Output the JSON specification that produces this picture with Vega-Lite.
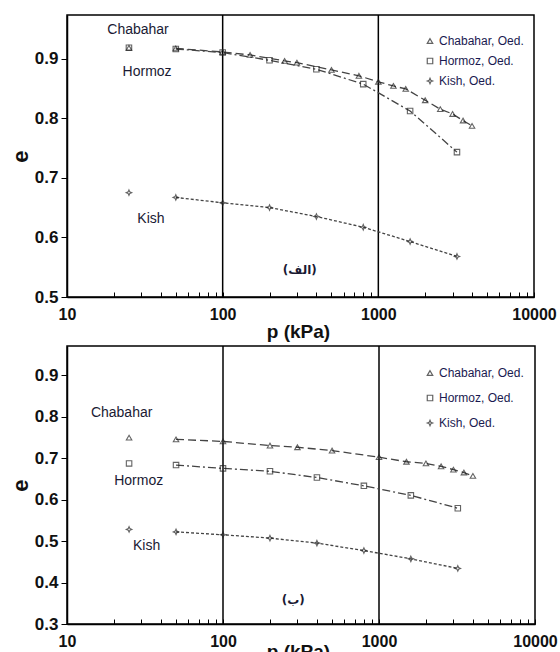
{
  "$schema": "https://vega.github.io/schema/vega-lite/v6.json",
  "padding": {"left": 8, "top": 13, "right": 4, "bottom": 0},
  "spacing": 2,
  "config": {
    "font": "Liberation Sans",
    "view": {"stroke": "#000", "strokeWidth": 1.5},
    "axis": {"domainColor": "#000", "tickColor": "#000", "labelColor": "#111", "titleColor": "#111", "grid": false},
    "legend": {"labelFontSize": 12, "labelColor": "#1a1a50", "symbolSize": 30, "symbolStrokeColor": "#222", "symbolStrokeWidth": 1.2, "labelOffset": 3}
  },
  "datasets": {
    "top": [
      {"series": "Chabahar, Oed.", "p": 25, "e": 0.918},
      {"series": "Chabahar, Oed.", "p": 50, "e": 0.917},
      {"series": "Chabahar, Oed.", "p": 100, "e": 0.911},
      {"series": "Chabahar, Oed.", "p": 150, "e": 0.906},
      {"series": "Chabahar, Oed.", "p": 250, "e": 0.896},
      {"series": "Chabahar, Oed.", "p": 300, "e": 0.893},
      {"series": "Chabahar, Oed.", "p": 500, "e": 0.881},
      {"series": "Chabahar, Oed.", "p": 750, "e": 0.871},
      {"series": "Chabahar, Oed.", "p": 1000, "e": 0.861},
      {"series": "Chabahar, Oed.", "p": 1250, "e": 0.854},
      {"series": "Chabahar, Oed.", "p": 1500, "e": 0.849},
      {"series": "Chabahar, Oed.", "p": 2000, "e": 0.830},
      {"series": "Chabahar, Oed.", "p": 2500, "e": 0.815},
      {"series": "Chabahar, Oed.", "p": 3000, "e": 0.807},
      {"series": "Chabahar, Oed.", "p": 3500, "e": 0.796},
      {"series": "Chabahar, Oed.", "p": 4000, "e": 0.787},
      {"series": "Hormoz, Oed.", "p": 25, "e": 0.918},
      {"series": "Hormoz, Oed.", "p": 50, "e": 0.916},
      {"series": "Hormoz, Oed.", "p": 100, "e": 0.910},
      {"series": "Hormoz, Oed.", "p": 200, "e": 0.897},
      {"series": "Hormoz, Oed.", "p": 400, "e": 0.882},
      {"series": "Hormoz, Oed.", "p": 800, "e": 0.857},
      {"series": "Hormoz, Oed.", "p": 1600, "e": 0.812},
      {"series": "Hormoz, Oed.", "p": 3200, "e": 0.743},
      {"series": "Kish, Oed.", "p": 25, "e": 0.675},
      {"series": "Kish, Oed.", "p": 50, "e": 0.667},
      {"series": "Kish, Oed.", "p": 100, "e": 0.658},
      {"series": "Kish, Oed.", "p": 200, "e": 0.650},
      {"series": "Kish, Oed.", "p": 400, "e": 0.635},
      {"series": "Kish, Oed.", "p": 800, "e": 0.617},
      {"series": "Kish, Oed.", "p": 1600, "e": 0.593},
      {"series": "Kish, Oed.", "p": 3200, "e": 0.568}
    ],
    "bottom": [
      {"series": "Chabahar, Oed.", "p": 25, "e": 0.749},
      {"series": "Chabahar, Oed.", "p": 50, "e": 0.745},
      {"series": "Chabahar, Oed.", "p": 100, "e": 0.740},
      {"series": "Chabahar, Oed.", "p": 200, "e": 0.730},
      {"series": "Chabahar, Oed.", "p": 300, "e": 0.726},
      {"series": "Chabahar, Oed.", "p": 500, "e": 0.718},
      {"series": "Chabahar, Oed.", "p": 1000, "e": 0.702},
      {"series": "Chabahar, Oed.", "p": 1500, "e": 0.691},
      {"series": "Chabahar, Oed.", "p": 2000, "e": 0.687},
      {"series": "Chabahar, Oed.", "p": 2500, "e": 0.680},
      {"series": "Chabahar, Oed.", "p": 3000, "e": 0.672},
      {"series": "Chabahar, Oed.", "p": 3500, "e": 0.665},
      {"series": "Chabahar, Oed.", "p": 4000, "e": 0.657},
      {"series": "Hormoz, Oed.", "p": 25, "e": 0.687},
      {"series": "Hormoz, Oed.", "p": 50, "e": 0.683},
      {"series": "Hormoz, Oed.", "p": 100, "e": 0.675},
      {"series": "Hormoz, Oed.", "p": 200, "e": 0.668},
      {"series": "Hormoz, Oed.", "p": 400, "e": 0.653},
      {"series": "Hormoz, Oed.", "p": 800, "e": 0.633},
      {"series": "Hormoz, Oed.", "p": 1600, "e": 0.610},
      {"series": "Hormoz, Oed.", "p": 3200, "e": 0.579},
      {"series": "Kish, Oed.", "p": 25, "e": 0.528},
      {"series": "Kish, Oed.", "p": 50, "e": 0.522},
      {"series": "Kish, Oed.", "p": 100, "e": 0.515},
      {"series": "Kish, Oed.", "p": 200, "e": 0.507},
      {"series": "Kish, Oed.", "p": 400, "e": 0.495},
      {"series": "Kish, Oed.", "p": 800, "e": 0.477},
      {"series": "Kish, Oed.", "p": 1600, "e": 0.457},
      {"series": "Kish, Oed.", "p": 3200, "e": 0.434}
    ],
    "grid": [{"p": 100}, {"p": 1000}],
    "topNames": [
      {"label": "Chabahar", "p": 28.6, "e": 0.948},
      {"label": "Hormoz", "p": 32.7, "e": 0.878},
      {"label": "Kish", "p": 34.6, "e": 0.631}
    ],
    "topTag": [{"label": "(الف)", "p": 313, "e": 0.546}],
    "bottomNames": [
      {"label": "Chabahar", "p": 22.4, "e": 0.808},
      {"label": "Hormoz", "p": 28.8, "e": 0.645},
      {"label": "Kish", "p": 32.4, "e": 0.487}
    ],
    "bottomTag": [{"label": "(ب)", "p": 282, "e": 0.358}]
  },
  "vconcat": [
    {
      "width": 467,
      "height": 282,
      "layer": [
        {
          "data": {"name": "grid"},
          "mark": {"type": "rule", "color": "#000", "strokeWidth": 1.5},
          "encoding": {
            "x": {
              "field": "p", "type": "quantitative",
              "scale": {"type": "log", "domain": [10, 10000], "nice": false},
              "axis": {
                "title": "p (kPa)",
                "values": [10,20,30,40,50,60,70,80,90,100,200,300,400,500,600,700,800,900,1000,2000,3000,4000,5000,6000,7000,8000,9000,10000],
                "format": "d",
                "labelExpr": "indexof(['10','100','1000','10000'], datum.label) >= 0 ? datum.label : ''",
                "tickSize": -5,
                "labelPadding": 14,
                "labelFontSize": 16,
                "labelFontWeight": "bold",
                "labelOverlap": false,
                "labelFlush": false,
                "titleFontSize": 19,
                "titleFontWeight": "bold",
                "titleX": 231,
                "titleY": 34,
                "titleBaseline": "middle",
                "domainWidth": 1.5
              }
            }
          }
        },
        {
          "data": {"name": "top"},
          "transform": [{"filter": "datum.p >= 50 && datum.series == 'Chabahar, Oed.'"}],
          "mark": {"type": "line", "color": "#444", "strokeWidth": 1.3, "strokeDash": [8, 4]},
          "encoding": {
            "x": {"field": "p", "type": "quantitative", "scale": {"type": "log", "domain": [10, 10000], "nice": false}},
            "y": {"field": "e", "type": "quantitative", "scale": {"domain": [0.5, 0.973], "nice": false, "zero": false}}
          }
        },
        {
          "data": {"name": "top"},
          "transform": [{"filter": "datum.p >= 50 && datum.series == 'Hormoz, Oed.'"}],
          "mark": {"type": "line", "color": "#444", "strokeWidth": 1.3, "strokeDash": [8, 3, 2, 3]},
          "encoding": {
            "x": {"field": "p", "type": "quantitative", "scale": {"type": "log", "domain": [10, 10000], "nice": false}},
            "y": {"field": "e", "type": "quantitative", "scale": {"domain": [0.5, 0.973], "nice": false, "zero": false}}
          }
        },
        {
          "data": {"name": "top"},
          "transform": [{"filter": "datum.p >= 50 && datum.series == 'Kish, Oed.'"}],
          "mark": {"type": "line", "color": "#444", "strokeWidth": 1.3, "strokeDash": [3, 2]},
          "encoding": {
            "x": {"field": "p", "type": "quantitative", "scale": {"type": "log", "domain": [10, 10000], "nice": false}},
            "y": {"field": "e", "type": "quantitative", "scale": {"domain": [0.5, 0.973], "nice": false, "zero": false}}
          }
        },
        {
          "data": {"name": "top"},
          "mark": {"type": "point", "filled": false, "color": "#222", "size": 30, "strokeWidth": 1.1},
          "encoding": {
            "x": {"field": "p", "type": "quantitative", "scale": {"type": "log", "domain": [10, 10000], "nice": false}},
            "y": {
              "field": "e", "type": "quantitative",
              "scale": {"domain": [0.5, 0.973], "nice": false, "zero": false},
              "axis": {
                "title": "e",
                "values": [0.5, 0.6, 0.7, 0.8, 0.9],
                "format": ".1f",
                "tickSize": 6,
                "labelPadding": 3,
                "labelFontSize": 17,
                "labelFontWeight": "bold",
                "titleFontSize": 22,
                "titleFontWeight": "bold",
                "titlePadding": 2,
                "domainWidth": 1.5
              }
            },
            "shape": {
              "field": "series", "type": "nominal",
              "scale": {"domain": ["Chabahar, Oed.", "Hormoz, Oed.", "Kish, Oed."], "range": ["triangle-up", "square", "M0,-1L0.3,-0.3L1,0L0.3,0.3L0,1L-0.3,0.3L-1,0L-0.3,-0.3Z"]},
              "legend": {"title": null, "orient": "none", "legendX": 357, "legendY": 20, "rowPadding": 8}
            }
          }
        },
        {
          "data": {"name": "topNames"},
          "mark": {"type": "text", "fontSize": 14, "color": "#1a1a33"},
          "encoding": {
            "x": {"field": "p", "type": "quantitative", "scale": {"type": "log", "domain": [10, 10000], "nice": false}},
            "y": {"field": "e", "type": "quantitative", "scale": {"domain": [0.5, 0.973], "nice": false, "zero": false}},
            "text": {"field": "label"}
          }
        },
        {
          "data": {"name": "topTag"},
          "mark": {"type": "text", "fontSize": 12, "fontWeight": "bold", "font": "DejaVu Sans", "color": "#1a1a33"},
          "encoding": {
            "x": {"field": "p", "type": "quantitative", "scale": {"type": "log", "domain": [10, 10000], "nice": false}},
            "y": {"field": "e", "type": "quantitative", "scale": {"domain": [0.5, 0.973], "nice": false, "zero": false}},
            "text": {"field": "label"}
          }
        }
      ]
    },
    {
      "width": 468,
      "height": 278,
      "layer": [
        {
          "data": {"name": "grid"},
          "mark": {"type": "rule", "color": "#000", "strokeWidth": 1.5},
          "encoding": {
            "x": {
              "field": "p", "type": "quantitative",
              "scale": {"type": "log", "domain": [10, 10000], "nice": false},
              "axis": {
                "title": "p (kPa)",
                "values": [10,20,30,40,50,60,70,80,90,100,200,300,400,500,600,700,800,900,1000,2000,3000,4000,5000,6000,7000,8000,9000,10000],
                "format": "d",
                "labelExpr": "indexof(['10','100','1000','10000'], datum.label) >= 0 ? datum.label : ''",
                "tickSize": -5,
                "labelPadding": 14,
                "labelFontSize": 16,
                "labelFontWeight": "bold",
                "labelOverlap": false,
                "labelFlush": false,
                "titleFontSize": 19,
                "titleFontWeight": "bold",
                "titleX": 231,
                "titleY": 27,
                "titleBaseline": "middle",
                "domainWidth": 1.5
              }
            }
          }
        },
        {
          "data": {"name": "bottom"},
          "transform": [{"filter": "datum.p >= 50 && datum.series == 'Chabahar, Oed.'"}],
          "mark": {"type": "line", "color": "#444", "strokeWidth": 1.3, "strokeDash": [8, 4]},
          "encoding": {
            "x": {"field": "p", "type": "quantitative", "scale": {"type": "log", "domain": [10, 10000], "nice": false}},
            "y": {"field": "e", "type": "quantitative", "scale": {"domain": [0.3, 0.97], "nice": false, "zero": false}}
          }
        },
        {
          "data": {"name": "bottom"},
          "transform": [{"filter": "datum.p >= 50 && datum.series == 'Hormoz, Oed.'"}],
          "mark": {"type": "line", "color": "#444", "strokeWidth": 1.3, "strokeDash": [8, 3, 2, 3]},
          "encoding": {
            "x": {"field": "p", "type": "quantitative", "scale": {"type": "log", "domain": [10, 10000], "nice": false}},
            "y": {"field": "e", "type": "quantitative", "scale": {"domain": [0.3, 0.97], "nice": false, "zero": false}}
          }
        },
        {
          "data": {"name": "bottom"},
          "transform": [{"filter": "datum.p >= 50 && datum.series == 'Kish, Oed.'"}],
          "mark": {"type": "line", "color": "#444", "strokeWidth": 1.3, "strokeDash": [3, 2]},
          "encoding": {
            "x": {"field": "p", "type": "quantitative", "scale": {"type": "log", "domain": [10, 10000], "nice": false}},
            "y": {"field": "e", "type": "quantitative", "scale": {"domain": [0.3, 0.97], "nice": false, "zero": false}}
          }
        },
        {
          "data": {"name": "bottom"},
          "mark": {"type": "point", "filled": false, "color": "#222", "size": 30, "strokeWidth": 1.1},
          "encoding": {
            "x": {"field": "p", "type": "quantitative", "scale": {"type": "log", "domain": [10, 10000], "nice": false}},
            "y": {
              "field": "e", "type": "quantitative",
              "scale": {"domain": [0.3, 0.97], "nice": false, "zero": false},
              "axis": {
                "title": "e",
                "values": [0.3, 0.4, 0.5, 0.6, 0.7, 0.8, 0.9],
                "format": ".1f",
                "tickSize": 6,
                "labelPadding": 3,
                "labelFontSize": 17,
                "labelFontWeight": "bold",
                "titleFontSize": 22,
                "titleFontWeight": "bold",
                "titlePadding": 2,
                "domainWidth": 1.5
              }
            },
            "shape": {
              "field": "series", "type": "nominal",
              "scale": {"domain": ["Chabahar, Oed.", "Hormoz, Oed.", "Kish, Oed."], "range": ["triangle-up", "square", "M0,-1L0.3,-0.3L1,0L0.3,0.3L0,1L-0.3,0.3L-1,0L-0.3,-0.3Z"]},
              "legend": {"title": null, "orient": "none", "legendX": 357, "legendY": 21, "rowPadding": 13}
            }
          }
        },
        {
          "data": {"name": "bottomNames"},
          "mark": {"type": "text", "fontSize": 14, "color": "#1a1a33"},
          "encoding": {
            "x": {"field": "p", "type": "quantitative", "scale": {"type": "log", "domain": [10, 10000], "nice": false}},
            "y": {"field": "e", "type": "quantitative", "scale": {"domain": [0.3, 0.97], "nice": false, "zero": false}},
            "text": {"field": "label"}
          }
        },
        {
          "data": {"name": "bottomTag"},
          "mark": {"type": "text", "fontSize": 12, "fontWeight": "bold", "font": "DejaVu Sans", "color": "#1a1a33"},
          "encoding": {
            "x": {"field": "p", "type": "quantitative", "scale": {"type": "log", "domain": [10, 10000], "nice": false}},
            "y": {"field": "e", "type": "quantitative", "scale": {"domain": [0.3, 0.97], "nice": false, "zero": false}},
            "text": {"field": "label"}
          }
        }
      ]
    }
  ],
  "resolve": {"scale": {"shape": "independent"}, "legend": {"shape": "independent"}}
}
